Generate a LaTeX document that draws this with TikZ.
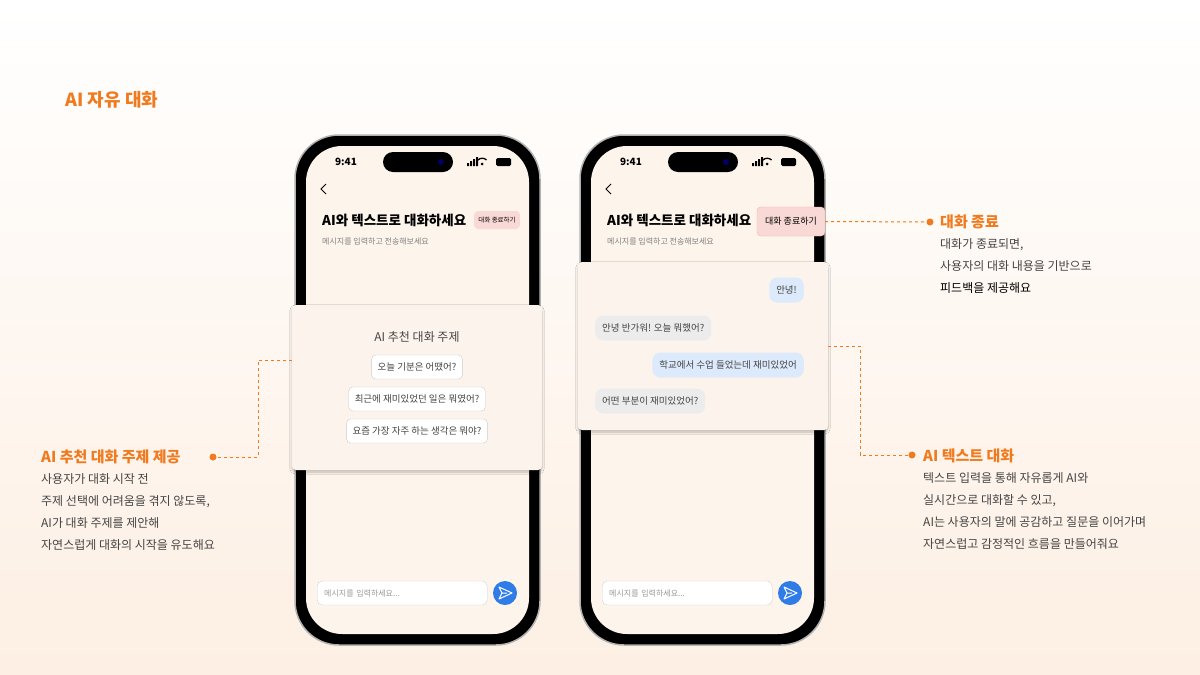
\documentclass[tikz,border=0pt]{standalone}
\usepackage{fontspec}
\setmainfont{Noto Sans CJK KR}
\usetikzlibrary{shadows.blur}
\definecolor{org}{HTML}{F07A1E}
\definecolor{peach}{HTML}{FDEFE3}
\definecolor{scr}{HTML}{FDF4EC}
\definecolor{card}{HTML}{FCF4EC}
\definecolor{pink}{HTML}{F9D9D6}
\definecolor{blu}{HTML}{DCEAFB}
\definecolor{gry}{HTML}{ECECEC}
\definecolor{sendb}{HTML}{2F7BE8}
\definecolor{txt}{HTML}{444444}
\tikzset{
 frame/.style={fill=black,draw=gray!60,line width=1.5pt,rounded corners=44pt},
 screen/.style={fill=scr,rounded corners=36pt},
 cardbox/.style={fill=card,rounded corners=4pt,blur shadow={shadow blur steps=8,shadow xshift=0pt,shadow yshift=-2pt,shadow opacity=25}},
 chip/.style={draw=gray!40,fill=white,rounded corners=4pt,minimum height=24pt,font=\fontsize{9.5}{11}\selectfont,text=txt,inner sep=6pt},
 bub/.style={rounded corners=8pt,minimum height=25pt,inner sep=7pt,font=\fontsize{9.5}{11}\selectfont,text=txt},
 conn/.style={org,dashed,line width=1pt},
 dot/.style={circle,fill=org,inner sep=0pt,minimum size=7pt},
 head/.style={org,font=\bfseries\fontsize{15}{18}\selectfont,inner sep=0pt},
 body/.style={font=\fontsize{12}{22}\selectfont,text=txt,inner sep=0pt,align=left},
}
\begin{document}
\begin{tikzpicture}[x=1pt,y=-1pt]
\shade[top color=white,bottom color=peach] (0,0) rectangle (1200,675);
\useasboundingbox (0,0) rectangle (1200,675);
\node[org,font=\bfseries\fontsize{18}{20}\selectfont,anchor=west] (title) at (62,100) {AI 자유 대화};
\foreach \dx/\p in {0/a,285/b}{
 \begin{scope}[xshift=\dx]
 \draw[frame] (295,135) rectangle (540,645);
 \fill[screen] (306,146) rectangle (529,634);
 \fill[black,rounded corners=10pt] (383,152) rectangle (453,172);
 \fill[blue!40!black] (441,162) circle (3);
 \node[font=\bfseries\fontsize{10}{12}\selectfont] at (346,162) {9:41};
 \fill (467,163) rectangle (469,166) (470,161) rectangle (472,166) (473,159) rectangle (475,166) (476,157) rectangle (478,166);
 \fill (482,164) circle (1.5);
 \draw[line width=1.3pt] (478,160) arc (225:315:6);
 \fill[rounded corners=1.5pt] (496,158) rectangle (511,166);
 \draw[line width=1pt] (326,184) -- (321,189) -- (326,194);
 \node[font=\fontsize{8}{10}\selectfont,text=gray,anchor=west,inner sep=0pt] at (322,242) {메시지를 입력하고 전송해보세요};
 \node[draw=gray!35,fill=white,rounded corners=5pt,minimum width=170pt,minimum height=24pt,anchor=west,font=\fontsize{8}{10}\selectfont,text=gray!80,text width=156pt] at (317,593) {메시지를 입력하세요...};
 \fill[sendb] (505,593) circle (12);
 \draw[white,line width=1pt,line join=round] (499,587) -- (512,593) -- (499,599) -- (502,593) -- cycle (502,593) -- (507,593);
 \end{scope}}
% phone 1
\node[font=\bfseries\fontsize{13.5}{16}\selectfont,anchor=west,inner sep=0pt] (t1) at (322,220) {AI와 텍스트로 대화하세요};
\node[fill=pink,rounded corners=4pt,font=\fontsize{6.5}{8}\selectfont,minimum width=46pt,minimum height=18pt,inner sep=1pt] (bd1) at (497,220) {대화 종료하기};
\node[cardbox,minimum width=250pt,minimum height=165pt] (c1) at (417,387.5) {};
\node[font=\fontsize{12}{14}\selectfont,text=txt] (c1t) at (417,337) {AI 추천 대화 주제};
\node[chip] (ch1) at (417,367) {오늘 기분은 어땠어?};
\node[chip] (ch2) at (417,399) {최근에 재미있었던 일은 뭐였어?};
\node[chip] (ch3) at (417,431) {요즘 가장 자주 하는 생각은 뭐야?};
% phone 2
\node[font=\bfseries\fontsize{13.5}{16}\selectfont,anchor=west,inner sep=0pt] (t2) at (607,220) {AI와 텍스트로 대화하세요};
\node[fill=pink,draw=pink!80!red,rounded corners=4pt,font=\fontsize{9}{11}\selectfont,minimum width=68pt,minimum height=29pt,inner sep=1pt] (bd2) at (791,221.5) {대화 종료하기};
\node[cardbox,minimum width=250pt,minimum height=168pt] (c2) at (703,346) {};
\node[bub,fill=blu,anchor=east] (m1) at (804,290) {안녕!};
\node[bub,fill=gry,anchor=west] (m2) at (595,328) {안녕 반가워! 오늘 뭐했어?};
\node[bub,fill=blu,anchor=east] (m3) at (804,365) {학교에서 수업 들었는데 재미있었어};
\node[bub,fill=gry,anchor=west] (m4) at (595,401) {어떤 부분이 재미있었어?};
% annotations
\node[dot] (d1) at (930,222) {};
\draw[conn] (bd2.east) -- (d1);
\node[head,anchor=west] (h1) at (940,222) {대화 종료};
\node[body,anchor=north west] at (940,238) {대화가 종료되면,\\사용자의 대화 내용을 기반으로\\\textcolor{black}{피드백을 제공해요}};
\node[dot] (d2) at (912,455) {};
\coordinate (k2) at (860,346);
\draw[conn] (c2.east |- k2) -- (k2) |- (d2);
\node[head,anchor=west] (h2) at (923,456) {AI 텍스트 대화};
\node[body,anchor=north west] at (923,472) {텍스트 입력을 통해 자유롭게 AI와\\실시간으로 대화할 수 있고,\\AI는 사용자의 말에 공감하고 질문을 이어가며\\자연스럽고 감정적인 흐름을 만들어줘요};
\node[dot] (d3) at (213,457) {};
\coordinate (k3) at (258,360);
\draw[conn] (c1.west |- k3) -- (k3) |- (d3);
\node[head,anchor=west] (h3) at (41,457) {AI 추천 대화 주제 제공};
\node[body,anchor=north west] at (41,473) {사용자가 대화 시작 전\\주제 선택에 어려움을 겪지 않도록,\\AI가 대화 주제를 제안해\\자연스럽게 대화의 시작을 유도해요};
\end{tikzpicture}
\end{document}
